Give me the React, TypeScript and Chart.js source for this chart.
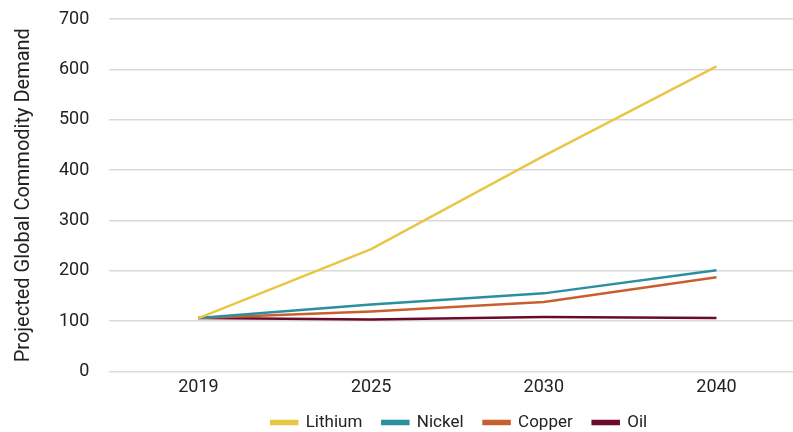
import React, { useEffect, useRef } from "react";
import { Chart, registerables } from "chart.js";

Chart.register(...registerables);

const years = ["2019", "2025", "2030", "2040"];
const lithium = [106, 243, 428, 606];
const nickel = [106, 133, 155, 201];
const copper = [106, 119, 138, 187];
const oil = [106, 103, 108, 106];
const yTicks = [0, 100, 200, 300, 400, 500, 600, 700];

const FONT = "Roboto";

const legendShift = {
  id: "legendShift",
  afterLayout(chart: any) {
    const l = chart.legend;
    const a = chart.chartArea;
    if (l && a) {
      const w = l.right - l.left;
      const c = (a.left + a.right) / 2 + 8;
      l.left = c - w / 2;
      l.right = c + w / 2;
      l.top = 394;
      l.bottom = chart.height;
      l.height = l.bottom - l.top;
    }
  },
};

export default function App() {
  const ref = useRef<HTMLCanvasElement | null>(null);

  useEffect(() => {
    document.body.style.margin = "0";
    const toPts = (arr: number[]) => arr.map((v, i) => ({ x: i, y: v }));
    const mk = (label: string, data: number[], color: string) => ({
      label,
      data: toPts(data),
      borderColor: color,
      backgroundColor: color,
      borderWidth: 2.5,
      pointRadius: 0,
      tension: 0,
    });
    const chart = new Chart(ref.current!, {
      type: "line",
      data: {
        datasets: [
          mk("Lithium", lithium, "#E9C646"),
          mk("Nickel", nickel, "#2C8FA0"),
          mk("Copper", copper, "#C95F2E"),
          mk("Oil", oil, "#6A0B2C"),
        ],
      },
      plugins: [legendShift],
      options: {
        animation: false,
        responsive: true,
        maintainAspectRatio: false,
        layout: { padding: { left: 12, top: 19, right: 0, bottom: 0 } },
        plugins: {
          tooltip: { enabled: false },
          legend: {
            position: "bottom",
            maxHeight: 29,
            labels: {
              boxWidth: 26,
              boxHeight: 3,
              padding: 20,
              color: "#222",
              font: { family: FONT, size: 17 },
            },
          },
        },
        scales: {
          x: {
            type: "linear",
            min: -0.516,
            max: 3.443,
            afterBuildTicks: (axis: any) => {
              axis.ticks = years.map((_, i) => ({ value: i }));
            },
            ticks: {
              callback: (v: any) => years[v as number] ?? "",
              color: "#222",
              font: { family: FONT, size: 18 },
              padding: 5,
              maxRotation: 0,
            },
            grid: { display: false, drawTicks: false },
            border: { display: false },
          },
          y: {
            min: 0,
            max: 700,
            afterBuildTicks: (axis: any) => {
              axis.ticks = yTicks.map((v) => ({ value: v }));
            },
            afterFit: (scale: any) => {
              scale.paddingTop = 0;
              scale.paddingBottom = 0;
            },
            ticks: {
              color: "#222",
              font: { family: FONT, size: 18 },
              padding: 20,
            },
            grid: { color: "#d9d9d9", lineWidth: 1.5, drawTicks: false },
            border: { display: false },
            title: {
              display: true,
              text: "Projected Global Commodity Demand",
              color: "#222",
              font: { family: FONT, size: 20 },
              padding: { top: 0, bottom: 3 },
            },
          },
        },
      },
    });
    return () => chart.destroy();
  }, []);

  return (
    <div style={{ position: "fixed", left: 0, top: 0, width: 793, height: 432 }}>
      <canvas ref={ref} />
    </div>
  );
}
